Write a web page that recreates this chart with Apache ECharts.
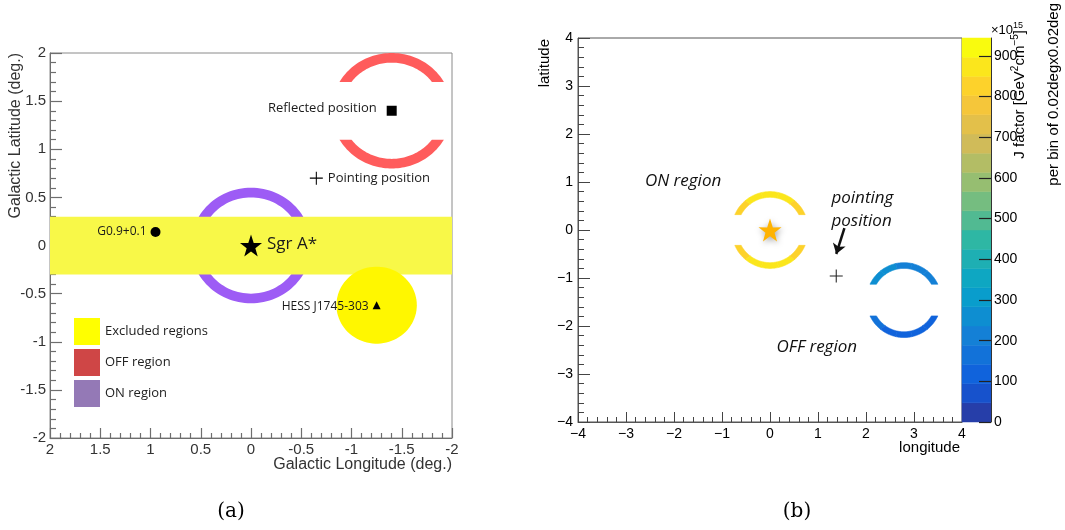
<!DOCTYPE html>
<html><head><meta charset="utf-8">
<script src="https://cdn.jsdelivr.net/npm/echarts@6/dist/echarts.min.js"></script>
<style>html,body{margin:0;padding:0;background:#fff}#c{width:1065px;height:530px}</style>
</head><body><div id="c"></div>
<script>
// ---------- Panel (a) data (degrees) ----------
const aOnRing = [0, 0, 0.5, 0.6];              // cx, cy, r0, r1
const aOffRing = [-1.4, 1.4, 0.5, 0.6, 0.3];   // cx, cy, r0, r1, gap half-height
const aBand = [-2, 2, -0.3, 0.3];              // lon min, lon max, lat min, lat max
const aHessDisk = [-1.25, -0.62, 0.4];         // cx, cy, r
const aMarkerNames = ['Reflected position', 'Pointing position', 'Sgr A*', 'G0.9+0.1', 'HESS J1745-303'];
const aMarkerLon = [-1.4, -0.65, 0, 0.95, -1.25];
const aMarkerLat = [1.4, 0.7, 0, 0.14, -0.62];
const aLegendNames = ['Excluded regions', 'OFF region', 'ON region'];

// ---------- Panel (b) data ----------
const bOnRing = [0, 0, 0.68, 0.80, 0.32];          // cx, cy, r0, r1, gap half-height
const bOffRing = [2.79, -1.46, 0.66, 0.78, 0.33];
const bOnUpperJ = [835, 870, 885, 875, 840];       // J factor along arcs (x1e15), left to right
const bOnLowerJ = [830, 865, 880, 870, 835];
const bOffUpperJ = [265, 250, 230, 215, 200];
const bOffLowerJ = [165, 140, 125, 120, 125];
const bStar = [0, 0];
const bPointing = [1.38, -0.96];
const bArrow = [[1.55, 0.04], [1.38, -0.5]];
const bTexts = ['ON region', 'pointing\nposition', 'OFF region'];
const bTextLon = [-1.81, 1.28, 0.975];
const bTextLat = [1.015, 0.42, -2.44];

// ---------- colour scale ----------
const jMax = 944;
const jNBands = 20;
const jTicks = [0, 100, 200, 300, 400, 500, 600, 700, 800, 900];
const birdStops = [0, 0.125, 0.25, 0.375, 0.5, 0.625, 0.75, 0.875, 1];
const birdR = [0.2082, 0.0592, 0.0780, 0.0232, 0.1802, 0.5301, 0.8186, 0.9956, 0.9764];
const birdG = [0.1664, 0.3599, 0.5041, 0.6419, 0.7178, 0.7492, 0.7328, 0.7862, 0.9832];
const birdB = [0.5293, 0.8684, 0.8385, 0.7914, 0.6425, 0.4662, 0.3499, 0.1968, 0.0539];

function bird(t) {
  let k = 0;
  while (k < birdStops.length - 2 && t > birdStops[k + 1]) k++;
  const f = (t - birdStops[k]) / (birdStops[k + 1] - birdStops[k]);
  const c = (a) => Math.round(255 * (a[k] + f * (a[k + 1] - a[k])));
  return 'rgb(' + c(birdR) + ',' + c(birdG) + ',' + c(birdB) + ')';
}
const pieces = [];
const cbData = [];
for (let i = 0; i < jNBands; i++) {
  const lo = i * jMax / jNBands, hi = (i + 1) * jMax / jNBands;
  pieces.push({ gte: lo, lt: hi + (i === jNBands - 1 ? 1 : 0), color: bird((i + 0.99) / jNBands) });
  cbData.push([(lo + hi) / 2, lo, hi]);
}

// ---------- geometry helpers ----------
function arcPoints(api, cx, cy, r0, r1, cut, side, f0, f1, steps) {
  const pts = [];
  const ao = Math.asin(Math.min(1, cut / r1)), ai = Math.asin(Math.min(1, cut / r0));
  for (let k = 0; k <= steps; k++) {
    const f = f0 + (f1 - f0) * k / steps;
    const th = Math.PI - ao - f * (Math.PI - 2 * ao);
    pts.push(api.coord([cx + r1 * Math.cos(th), cy + side * r1 * Math.sin(th)]));
  }
  for (let k = steps; k >= 0; k--) {
    const f = f0 + (f1 - f0) * k / steps;
    const th = Math.PI - ai - f * (Math.PI - 2 * ai);
    pts.push(api.coord([cx + r0 * Math.cos(th), cy + side * r0 * Math.sin(th)]));
  }
  return pts;
}
function ringRender(fill) {
  return function (params, api) {
    const pts = arcPoints(api, api.value(0), api.value(1), api.value(2), api.value(3), api.value(4), api.value(5), 0, 1, 60);
    return { type: 'polygon', shape: { points: pts }, style: { fill: fill } };
  };
}

const starPath = 'path://M50,0 L61.8,35.1 L98.1,34.5 L69,56.3 L79.4,90.5 L50,70 L20.6,90.5 L31,56.3 L1.9,34.5 L38.2,35.1 Z';
const crossPath = 'path://M0,9.2 H20 V10.8 H0 Z M9.2,0 H10.8 V20 H9.2 Z';

// panel (a) marker styling
const aSymbols = ['rect', crossPath, starPath, 'circle', 'triangle'];
const aSizes = [10, 13, 22, 10, 8];
const aLabelPos = ['left', 'right', 'right', 'left', 'left'];
const aLabelDist = [10, 5, 5, 4, 4];
const aLabelSize = [13, 13, 17, 12, 12];
const aLabelOffset = [[0, -2], [0, 0], [0, -1], [0, 0], [0, 1]];
const aMarkerData = aMarkerNames.map((n, i) => ({
  name: n, value: [aMarkerLon[i], aMarkerLat[i]],
  symbol: aSymbols[i], symbolSize: aSizes[i],
  label: { show: true, position: aLabelPos[i], distance: aLabelDist[i], fontSize: aLabelSize[i], offset: aLabelOffset[i], formatter: n }
}));

// panel (b) ring segments
const bRingData = [];
function addArc(ring, side, vals) {
  vals.forEach((v, k) => bRingData.push([v, ring[0], ring[1], ring[2], ring[3], ring[4], side, k, vals.length]));
}
addArc(bOnRing, 1, bOnUpperJ);
addArc(bOnRing, -1, bOnLowerJ);
addArc(bOffRing, 1, bOffUpperJ);
addArc(bOffRing, -1, bOffLowerJ);

const FONT = 'Liberation Sans';
const CAL = 'Open Sans';
const minus = (v) => (v < 0 ? '\u2212' : '') + Math.abs(v);
const AC = '#6e6e6e';

const chart = echarts.init(document.getElementById('c'), null, { renderer: 'canvas' });
chart.setOption({
  animation: false,
  backgroundColor: '#fff',
  grid: [
    { left: 50, top: 53, width: 402, height: 385, show: true, borderColor: '#8a8a8a', borderWidth: 1 },
    { left: 578, top: 38, width: 384, height: 384, show: true, borderColor: '#555', borderWidth: 1 },
    { left: 962, top: 38, width: 29, height: 384, show: false }
  ],
  xAxis: [
    { gridIndex: 0, type: 'value', min: -2, max: 2, interval: 0.5, inverse: true,
      axisLine: { onZero: false, lineStyle: { color: AC } },
      axisTick: { inside: true, length: 10, lineStyle: { color: AC, width: 1.2 } },
      minorTick: { show: true, splitNumber: 5, length: 5, lineStyle: { color: AC, width: 1.2 } },
      splitLine: { show: false },
      axisLabel: { fontFamily: FONT, fontSize: 15, color: '#333', margin: 4 } },
    { gridIndex: 1, type: 'value', min: -4, max: 4, interval: 1,
      axisLine: { onZero: false, lineStyle: { color: '#555' } },
      axisTick: { inside: true, length: 10, lineStyle: { color: '#444' } },
      minorTick: { show: true, splitNumber: 5, length: 5, lineStyle: { color: '#444' } },
      splitLine: { show: false },
      axisLabel: { fontFamily: FONT, fontSize: 14, color: '#000', margin: 5, formatter: minus } },
    { gridIndex: 2, type: 'value', min: 0, max: 1, show: false }
  ],
  yAxis: [
    { gridIndex: 0, type: 'value', min: -2, max: 2, interval: 0.5,
      axisLine: { onZero: false, lineStyle: { color: AC } },
      axisTick: { inside: true, length: 12, lineStyle: { color: AC, width: 1.2 } },
      minorTick: { show: true, splitNumber: 5, length: 6, lineStyle: { color: AC, width: 1.2 } },
      splitLine: { show: false },
      axisLabel: { fontFamily: FONT, fontSize: 15, color: '#333', margin: 4 } },
    { gridIndex: 1, type: 'value', min: -4, max: 4, interval: 1,
      axisLine: { onZero: false, lineStyle: { color: '#555' } },
      axisTick: { inside: true, length: 12, lineStyle: { color: '#444' } },
      minorTick: { show: true, splitNumber: 5, length: 6, lineStyle: { color: '#444' } },
      splitLine: { show: false },
      axisLabel: { fontFamily: FONT, fontSize: 14, color: '#000', margin: 5, formatter: minus } },
    { gridIndex: 2, type: 'value', min: 0, max: jMax, position: 'right', z: 10,
      axisLine: { show: true, onZero: false, lineStyle: { color: '#333' } },
      axisTick: { show: true, inside: true, length: 12, customValues: jTicks, lineStyle: { color: '#222', width: 1.2 } },
      splitLine: { show: false },
      axisLabel: { customValues: jTicks, fontFamily: FONT, fontSize: 14, color: '#000', margin: 3 } }
  ],
  legend: {
    data: [
      { name: aLegendNames[0], itemStyle: { color: '#ffff00' } },
      { name: aLegendNames[1], itemStyle: { color: '#cf4646' } },
      { name: aLegendNames[2], itemStyle: { color: '#9479b6' } }
    ],
    orient: 'vertical', left: 74, top: 318, itemWidth: 26, itemHeight: 27, itemGap: 4,
    icon: 'rect', selectedMode: false, padding: 0,
    textStyle: { fontFamily: CAL, fontSize: 13, color: '#222' }
  },
  visualMap: [{
    type: 'piecewise', show: false, dimension: 0, seriesIndex: [5, 10], pieces: pieces
  }],
  series: [
    { name: aLegendNames[2], type: 'custom', xAxisIndex: 0, yAxisIndex: 0,
      itemStyle: { color: '#9479b6' }, encode: { x: 0, y: 1 },
      data: [[aOnRing[0], aOnRing[1], aOnRing[2], aOnRing[3], 0, 1], [aOnRing[0], aOnRing[1], aOnRing[2], aOnRing[3], 0, -1]],
      renderItem: ringRender('#9d5cf5') },
    { name: aLegendNames[0], type: 'custom', xAxisIndex: 0, yAxisIndex: 0,
      itemStyle: { color: '#ffff00' }, encode: { x: 0, y: 2 },
      data: [aBand],
      renderItem: function (params, api) {
        const p = [api.coord([api.value(0), api.value(2)]), api.coord([api.value(1), api.value(2)]),
                   api.coord([api.value(1), api.value(3)]), api.coord([api.value(0), api.value(3)])];
        return { type: 'polygon', shape: { points: p }, style: { fill: '#f8f848' } };
      } },
    { name: aLegendNames[0], type: 'custom', xAxisIndex: 0, yAxisIndex: 0,
      itemStyle: { color: '#ffff00' }, encode: { x: 0, y: 1 },
      data: [aHessDisk],
      renderItem: function (params, api) {
        const cx = api.value(0), cy = api.value(1), r = api.value(2), pts = [];
        for (let k = 0; k < 90; k++) {
          const t = 2 * Math.PI * k / 90;
          pts.push(api.coord([cx + r * Math.cos(t), cy + r * Math.sin(t)]));
        }
        return { type: 'polygon', shape: { points: pts }, style: { fill: '#fff700' } };
      } },
    { name: aLegendNames[1], type: 'custom', xAxisIndex: 0, yAxisIndex: 0,
      itemStyle: { color: '#cf4646' }, encode: { x: 0, y: 1 },
      data: [aOffRing.concat([1]), aOffRing.concat([-1])],
      renderItem: ringRender('#ff5c5c') },
    { name: 'markers-a', type: 'scatter', xAxisIndex: 0, yAxisIndex: 0,
      itemStyle: { color: '#000', opacity: 1 },
      label: { fontFamily: CAL, color: '#1a1a1a' },
      data: aMarkerData, z: 5 },
    { name: 'J rings', type: 'custom', xAxisIndex: 1, yAxisIndex: 1, encode: { x: 1, y: 2 },
      data: bRingData,
      renderItem: function (params, api) {
        const k = api.value(7), n = api.value(8);
        const pts = arcPoints(api, api.value(1), api.value(2), api.value(3), api.value(4), api.value(5), api.value(6), k / n, (k + 1) / n, 16);
        const c = api.visual('color');
        return { type: 'polygon', shape: { points: pts }, style: { fill: c, stroke: c, lineWidth: 0.6 } };
      } },
    { name: 'star-b', type: 'scatter', xAxisIndex: 1, yAxisIndex: 1,
      symbol: starPath, symbolSize: 23,
      itemStyle: { color: '#ffb300', opacity: 1, shadowBlur: 6, shadowColor: 'rgba(0,0,0,0.35)', shadowOffsetX: 1, shadowOffsetY: 2 },
      data: [bStar], z: 5 },
    { name: 'pointing-b', type: 'scatter', xAxisIndex: 1, yAxisIndex: 1,
      symbol: crossPath, symbolSize: 13, itemStyle: { color: '#222', opacity: 1 },
      data: [bPointing], z: 5 },
    { name: 'arrow-b', type: 'lines', coordinateSystem: 'cartesian2d', xAxisIndex: 1, yAxisIndex: 1,
      symbol: ['none', 'arrow'], symbolSize: 10,
      lineStyle: { color: '#111', width: 2.5, opacity: 1 },
      data: [{ coords: bArrow }], z: 5 },
    { name: 'texts-b', type: 'scatter', xAxisIndex: 1, yAxisIndex: 1,
      symbolSize: 0, itemStyle: { opacity: 1 },
      label: { show: true, fontFamily: CAL, fontStyle: 'italic', fontSize: 17, color: '#111', opacity: 1, lineHeight: 23 },
      data: bTexts.map((t, i) => ({
        name: t, value: [bTextLon[i], bTextLat[i]],
        label: i === 1 ? { position: 'right', distance: 0, align: 'left', formatter: t } : { position: 'inside', formatter: t }
      })), z: 6 },
    { name: 'colorbar', type: 'custom', xAxisIndex: 2, yAxisIndex: 2, encode: { y: 1 }, z: 1,
      data: cbData,
      renderItem: function (params, api) {
        const p0 = api.coord([0, api.value(1)]), p1 = api.coord([1, api.value(2)]);
        const c = api.visual('color');
        return { type: 'rect', shape: { x: p0[0], y: p1[1], width: p1[0] - p0[0], height: p0[1] - p1[1] },
                 style: { fill: c, stroke: c, lineWidth: 0.5 } };
      } }
  ],
  graphic: [
    { type: 'text', x: 16, y: 53, rotation: Math.PI / 2,
      style: { text: 'Galactic Latitude (deg.)', fontFamily: FONT, fontSize: 16, fill: '#333', align: 'right', verticalAlign: 'middle' } },
    { type: 'text', x: 452, y: 465,
      style: { text: 'Galactic Longitude (deg.)', fontFamily: FONT, fontSize: 16, fill: '#333', align: 'right', verticalAlign: 'middle' } },
    { type: 'text', x: 545, y: 39, rotation: Math.PI / 2,
      style: { text: 'latitude', fontFamily: FONT, fontSize: 15, fill: '#000', align: 'right', verticalAlign: 'middle' } },
    { type: 'text', x: 960, y: 448,
      style: { text: 'longitude', fontFamily: FONT, fontSize: 15, fill: '#000', align: 'right', verticalAlign: 'middle' } },
    { type: 'text', x: 991, y: 30, z: 20,
      style: { text: '\u00d710{s|15}', fontFamily: FONT, fontSize: 13, fill: '#000', align: 'left', verticalAlign: 'middle',
               rich: { s: { fontFamily: FONT, fontSize: 9, fill: '#000', padding: [0, 0, 9, 0] } } } },
    { type: 'text', x: 1020, y: 30, rotation: Math.PI / 2, z: 20,
      style: { text: 'J factor [GeV{s|2}cm{s|\u22125}]', fontFamily: FONT, fontSize: 15, fill: '#000', align: 'right', verticalAlign: 'middle',
               rich: { s: { fontFamily: FONT, fontSize: 10, fill: '#000', padding: [0, 0, 10, 0] } } } },
    { type: 'text', x: 1054, y: 3, rotation: Math.PI / 2,
      style: { text: 'per bin of 0.02degx0.02deg', fontFamily: FONT, fontSize: 15, fill: '#000', align: 'right', verticalAlign: 'middle' } },
    { type: 'text', x: 231, y: 512,
      style: { text: '(a)', fontFamily: 'DejaVu Serif', fontSize: 20, fill: '#000', align: 'center', verticalAlign: 'middle' } },
    { type: 'text', x: 797, y: 512,
      style: { text: '(b)', fontFamily: 'DejaVu Serif', fontSize: 20, fill: '#000', align: 'center', verticalAlign: 'middle' } }
  ]
});
</script>
</body></html>
